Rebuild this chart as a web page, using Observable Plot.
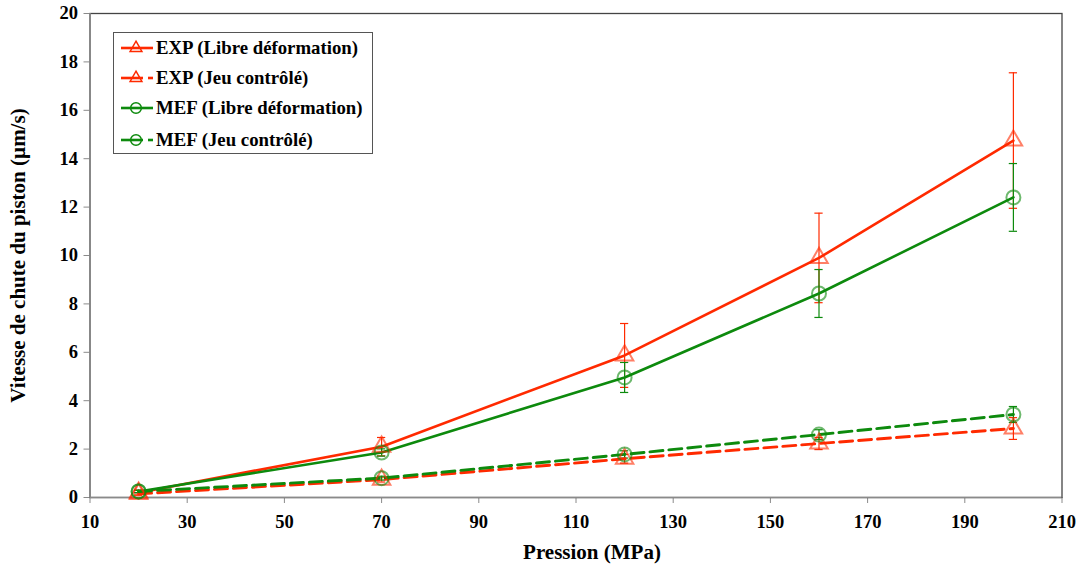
<!DOCTYPE html>
<html>
<head>
<meta charset="utf-8">
<script src="https://cdn.jsdelivr.net/npm/d3@7"></script>
<script src="https://cdn.jsdelivr.net/npm/@observablehq/plot@0.6"></script>
<style>
  html, body { margin: 0; padding: 0; background: #fff; }
  #wrap { position: relative; width: 1082px; height: 564px; font-family: "Liberation Serif", "DejaVu Serif", serif; }
  #legend { position: absolute; left: 113px; top: 32px; width: 260px; height: 122px; border: 1px solid #555; background: #fff; box-sizing: border-box; }
  .item { position: absolute; left: 6px; height: 24px; display: flex; align-items: center; font-weight: bold; font-size: 18.8px; color: #000; white-space: nowrap; }
  .item svg { margin-right: 2px; }
</style>
</head>
<body>
<div id="wrap"><div id="chart"></div><div id="legend"></div></div>
<script>
const pressions = [20, 70, 120, 160, 200];
const seriesNames = ["EXP (Libre déformation)", "EXP (Jeu contrôlé)", "MEF (Libre déformation)", "MEF (Jeu contrôlé)"];
const expLibre = [0.2, 2.1, 5.87, 9.9, 14.75];
const expLibreErr = [0.1, 0.38, 1.32, 1.85, 2.8];
const expJeu = [0.15, 0.74, 1.6, 2.23, 2.85];
const expJeuErr = [0.05, 0.1, 0.18, 0.25, 0.45];
const mefLibre = [0.25, 1.86, 4.96, 8.43, 12.4];
const mefLibreErr = [0.05, 0.15, 0.62, 0.99, 1.4];
const mefJeu = [0.25, 0.8, 1.78, 2.6, 3.43];
const mefJeuErr = [0.05, 0.08, 0.15, 0.2, 0.33];
const xTicks = [10, 30, 50, 70, 90, 110, 130, 150, 170, 190, 210];
const yTicks = [0, 2, 4, 6, 8, 10, 12, 14, 16, 18, 20];

const RED = "#ff2a00", GREEN = "#0d8a0d";
const styles = [
  {color: RED, dash: null, symbol: "triangle"},
  {color: RED, dash: "13,6", symbol: "triangle"},
  {color: GREEN, dash: null, symbol: "circle"},
  {color: GREEN, dash: "13,6", symbol: "circle"}
];
const vals = [expLibre, expJeu, mefLibre, mefJeu];
const errs = [expLibreErr, expJeuErr, mefLibreErr, mefJeuErr];

const rows = [];
seriesNames.forEach((s, i) => pressions.forEach((p, j) => rows.push({s, i, x: p, y: vals[i][j], e: errs[i][j]})));
const capW = 0.85;

const marks = [
  Plot.frame({stroke: "#444", strokeWidth: 1.3}),
  Plot.ruleX([10], {stroke: "#8a8a8a", strokeWidth: 1.5}),
  Plot.ruleY([0], {stroke: "#8a8a8a", strokeWidth: 1.5})
];
[0, 2, 1, 3].forEach(i => {
  const d = rows.filter(r => r.i === i);
  const c = styles[i].color;
  marks.push(Plot.ruleX(d, {x: "x", y1: r => r.y - r.e, y2: r => r.y + r.e, stroke: c, strokeWidth: 1.2}));
  marks.push(Plot.ruleY(d, {y: r => r.y + r.e, x1: r => r.x - capW, x2: r => r.x + capW, stroke: c, strokeWidth: 1.2}));
  marks.push(Plot.ruleY(d, {y: r => r.y - r.e, x1: r => r.x - capW, x2: r => r.x + capW, stroke: c, strokeWidth: 1.2}));
});
[0, 2, 1, 3].forEach(i => {
  const d = rows.filter(r => r.i === i);
  const st = styles[i];
  marks.push(Plot.line(d, {x: "x", y: "y", stroke: st.color, strokeWidth: st.dash ? 2.9 : 2.6, strokeDasharray: st.dash, curve: "linear"}));
});
[0, 1, 2, 3].forEach(i => {
  const d = rows.filter(r => r.i === i);
  const st = styles[i];
  marks.push(Plot.dot(d, {x: "x", y: "y", symbol: st.symbol, r: st.symbol === "triangle" ? 6.5 : 7, stroke: st.color, strokeWidth: 2, strokeOpacity: 0.6, fill: "none", style: "filter: drop-shadow(1px 2px 1.5px rgba(0,0,0,0.35))"}));
});

const chart = Plot.plot({
  width: 1082,
  height: 564,
  marginLeft: 89.5,
  marginRight: 20.5,
  marginTop: 13,
  marginBottom: 67,
  style: {fontFamily: "'Liberation Serif', serif", fontWeight: "bold", fontSize: "18.5px", color: "#000", background: "#fff"},
  x: {domain: [10, 210]},
  y: {domain: [0, 20]},
  marks: [
    Plot.axisX({ticks: xTicks, stroke: "#8a8a8a", tickSize: 6, tickPadding: 11, fontSize: 18.5, fontWeight: "bold", label: "Pression (MPa)", labelAnchor: "center", labelArrow: "none", labelOffset: 61}),
    Plot.axisY({ticks: yTicks, stroke: "#8a8a8a", tickSize: 6, tickPadding: 6, fontSize: 18.5, fontWeight: "bold", label: "Vitesse de chute du piston (µm/s)", labelAnchor: "center", labelArrow: "none", labelOffset: 80}),
    ...marks
  ]
});
document.getElementById("chart").appendChild(chart);
d3.select(chart).selectAll("[aria-label='x-axis label'] text, [aria-label='y-axis label'] text").style("font-size", "21px");
d3.select(chart).selectAll("[aria-label='x-axis label'] text").attr("dx", 16);

const legend = d3.select("#legend");
const tops = [3, 33, 63, 95];
seriesNames.forEach((s, i) => {
  const st = styles[i];
  const it = legend.append("div").attr("class", "item").style("top", tops[i] + "px");
  const sv = it.append("svg").attr("width", 34).attr("height", 20);
  if (st.dash) {
    sv.append("line").attr("x1", 1).attr("x2", 23).attr("y1", 10).attr("y2", 10).attr("stroke", st.color).attr("stroke-width", 2.6);
    sv.append("line").attr("x1", 28).attr("x2", 33).attr("y1", 10).attr("y2", 10).attr("stroke", st.color).attr("stroke-width", 2.6);
  } else {
    sv.append("line").attr("x1", 1).attr("x2", 33).attr("y1", 10).attr("y2", 10).attr("stroke", st.color).attr("stroke-width", 2.6);
  }
  const sym = d3.symbol(st.symbol === "triangle" ? d3.symbolTriangle : d3.symbolCircle, st.symbol === "triangle" ? 60 : 90)();
  sv.append("path").attr("d", sym).attr("transform", "translate(16,10)").attr("fill", "none").attr("stroke", st.color).attr("stroke-width", 1.5);
  it.append("span").text(s);
});
</script>
</body>
</html>
